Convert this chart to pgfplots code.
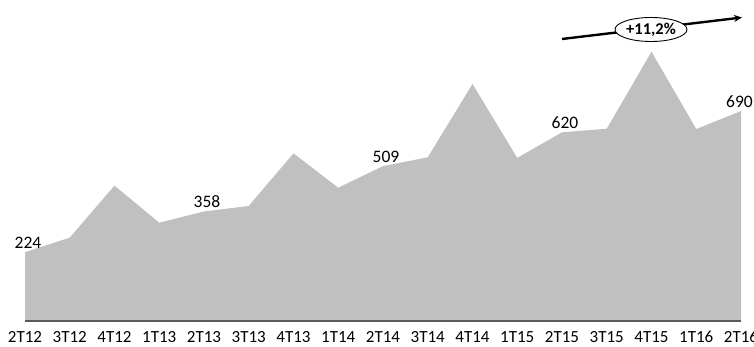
\documentclass[border=0pt]{standalone}
\usepackage{pgfplots}
\pgfplotsset{compat=1.18}
\usepackage{fontspec}
\setmainfont{Carlito}
\usetikzlibrary{arrows.meta,shapes.geometric}

\definecolor{areagray}{RGB}{192,192,192}
\definecolor{basegray}{RGB}{90,90,90}

\begin{document}
\begin{tikzpicture}[x=1pt,y=1pt]
\useasboundingbox (0,0) rectangle (754,347);
\begin{axis}[
  at={(25pt,26pt)}, anchor=south west,
  scale only axis, width=716pt, height=321pt,
  xmin=0, xmax=16, ymin=0, ymax=1055,
  axis lines=none,
  clip=false,
  xtick=\empty, ytick=\empty,
  every node near coord/.append style={anchor=base, yshift=3.5pt,
    font=\fontsize{17.5}{20}\selectfont, text=black},
]
% quarterly series as a filled area
\addplot[fill=areagray, draw=none] table {
x y
0 226
1 274
2 445
3 323
4 360
5 378
6 551
7 438
8 509
9 538
10 779
11 536
12 620
13 632
14 885
15 631
16 690
} \closedcycle;

% labelled quarters
\addplot[draw=none, mark=none, nodes near coords,
  nodes near coords style={xshift=3pt},
  point meta=explicit symbolic] table[meta=l] {
x y l
0 226 224
4 360 358
8 509 509
12 620 620
};
\addplot[draw=none, mark=none, nodes near coords,
  nodes near coords style={xshift=-1.5pt},
  point meta=explicit symbolic] table[meta=l] {
x y l
16 690 690
};

% baseline
\draw[basegray, line width=1.8pt] (axis cs:0,0) -- (axis cs:16,0);

% category labels
\foreach \i/\t in {0/2T12,1/3T12,2/4T12,3/1T13,4/2T13,5/3T13,6/4T13,7/1T14,8/2T14,9/3T14,10/4T14,11/1T15,12/2T15,13/3T15,14/4T15,15/1T16,16/2T16}{
  \edef\tmp{\noexpand\node[anchor=base, font=\noexpand\fontsize{17}{20}\noexpand\selectfont, inner sep=0pt]
    at ([yshift=-22pt]axis cs:\i,0) {\t};}
  \tmp
}
\end{axis}

% growth arrow with badge
\draw[line width=2.4pt, -{Stealth[length=8pt,width=7pt]}] (562,308) -- (742,329.5);
\node[draw=black, line width=0.9pt, fill=white, ellipse, minimum width=72pt, minimum height=24pt, inner sep=0pt,
  font=\bfseries\fontsize{16.5}{19}\selectfont] at (651,317.5) {+11,2\%};
\end{tikzpicture}
\end{document}
